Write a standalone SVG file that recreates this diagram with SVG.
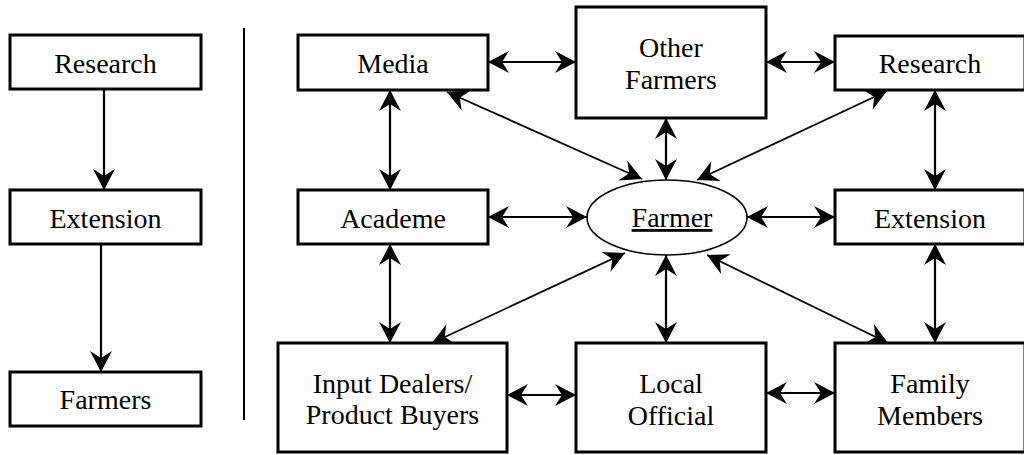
<svg xmlns="http://www.w3.org/2000/svg" width="1024" height="455" viewBox="0 0 1024 455">
<style>
.box{fill:#fff;stroke:#000;stroke-width:3}
.ell{fill:#fff;stroke:#000;stroke-width:1.6}
.t{font-family:"Liberation Serif","Times New Roman",serif;font-size:28px;fill:#000;text-anchor:middle}
.c{stroke:#000;stroke-width:2.2;fill:none}
.d{stroke:#000;stroke-width:1.8;fill:none}
.one{marker-end:url(#ah)}
.two{marker-start:url(#ah);marker-end:url(#ah)}
</style>
<defs>
<marker id="ah" markerUnits="userSpaceOnUse" viewBox="-22 -12 23 24" refX="0" refY="0" markerWidth="23" markerHeight="24" orient="auto-start-reverse">
<path d="M0,0 L-21,-11 L-14,0 L-21,11 Z" fill="#000"/>
</marker>
</defs>
<g id="connectors">
<line class="c one" x1="104" y1="89" x2="104" y2="190"/>
<line class="c one" x1="101" y1="244" x2="101" y2="372"/>
<line x1="244" y1="28" x2="244" y2="420" stroke="#000" stroke-width="2"/>
<line class="c two" x1="488" y1="62" x2="576" y2="62"/>
<line class="c two" x1="766" y1="62" x2="835" y2="62"/>
<line class="c two" x1="488" y1="217" x2="587" y2="217"/>
<line class="c two" x1="747" y1="217" x2="835" y2="217"/>
<line class="c two" x1="507" y1="395" x2="576" y2="395"/>
<line class="c two" x1="766" y1="393" x2="835" y2="393"/>
<line class="c two" x1="390" y1="90" x2="390" y2="190"/>
<line class="c two" x1="666" y1="118" x2="666" y2="180"/>
<line class="c two" x1="935" y1="90" x2="935" y2="190"/>
<line class="c two" x1="390" y1="244" x2="390" y2="343"/>
<line class="c two" x1="666" y1="255" x2="666" y2="343"/>
<line class="c two" x1="935" y1="244" x2="935" y2="343"/>
<line class="d two" x1="447" y1="92" x2="642" y2="179"/>
<line class="d two" x1="887" y1="91" x2="697" y2="180"/>
<line class="d two" x1="432" y1="343" x2="625" y2="253"/>
<line class="d two" x1="888" y1="343" x2="707" y2="255"/>
</g>
<g id="left-research"><rect class="box" x="10" y="35" width="191" height="54"/><text class="t" x="105.5" y="73">Research</text></g>
<g id="left-extension"><rect class="box" x="10" y="190" width="191" height="54"/><text class="t" x="105.5" y="228">Extension</text></g>
<g id="left-farmers"><rect class="box" x="10" y="372" width="191" height="54"/><text class="t" x="105.5" y="409">Farmers</text></g>
<g id="media"><rect class="box" x="298" y="35" width="190" height="55"/><text class="t" x="393" y="73">Media</text></g>
<g id="other-farmers"><rect class="box" x="576" y="7" width="190" height="111"/><text class="t" x="671" y="57">Other</text><text class="t" x="671" y="89">Farmers</text></g>
<g id="research"><rect class="box" x="835" y="36" width="190" height="54"/><text class="t" x="930" y="73">Research</text></g>
<g id="academe"><rect class="box" x="298" y="190" width="190" height="54"/><text class="t" x="393" y="228">Academe</text></g>
<g id="farmer"><ellipse class="ell" cx="667" cy="217.5" rx="80" ry="37.5"/><text class="t" x="672" y="227" text-decoration="underline">Farmer</text></g>
<g id="extension"><rect class="box" x="835" y="190" width="190" height="54"/><text class="t" x="930" y="228">Extension</text></g>
<g id="input-dealers"><rect class="box" x="278" y="343" width="229" height="109"/><text class="t" x="392.5" y="393">Input Dealers/</text><text class="t" x="392.5" y="424">Product Buyers</text></g>
<g id="local-official"><rect class="box" x="576" y="343" width="190" height="109"/><text class="t" x="671" y="393">Local</text><text class="t" x="671" y="425">Official</text></g>
<g id="family-members"><rect class="box" x="835" y="343" width="190" height="109"/><text class="t" x="930" y="393">Family</text><text class="t" x="930" y="425">Members</text></g>
</svg>
